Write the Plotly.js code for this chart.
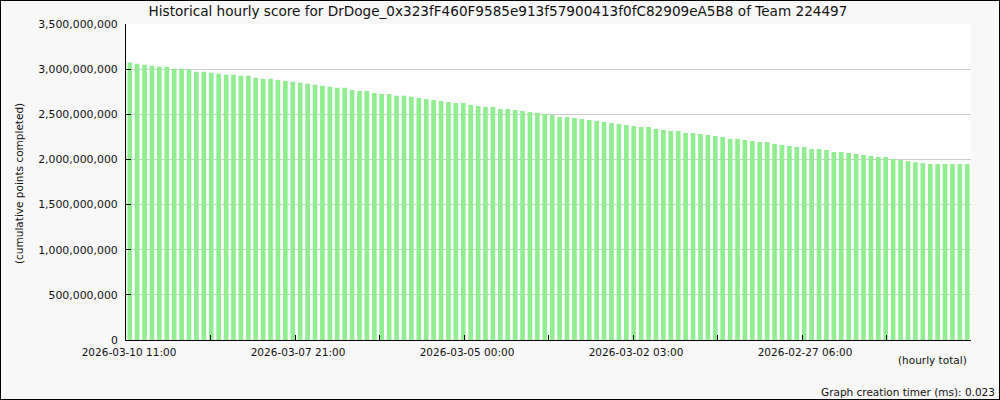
<!DOCTYPE html>
<html>
<head>
<meta charset="utf-8">
<script src="https://cdn.plot.ly/plotly-3.0.1.min.js"></script>
<style>
  html, body { margin: 0; padding: 0; background: #f8f8f8; }
  #wrap { position: relative; width: 1000px; height: 400px; }
  #chart { width: 1000px; height: 400px; }
  #frame { position: absolute; left: 0; top: 0; width: 1000px; height: 400px; box-sizing: border-box; border: 1px solid #000; pointer-events: none; }
</style>
</head>
<body>
<div id="wrap"><div id="chart"></div><div id="frame"></div></div>
<script>
// Cumulative points (millions), newest hour first (left) to oldest (right)
const scoreMillions = [
  3074, 3059, 3048, 3037, 3026, 3026, 3004, 3004, 2996, 2970,
  2970, 2959, 2948, 2937, 2937, 2926, 2926, 2904, 2893, 2893,
  2881, 2870, 2859, 2848, 2837, 2826, 2815, 2804, 2793, 2793,
  2770, 2759, 2759, 2737, 2726, 2726, 2704, 2704, 2693, 2681,
  2670, 2659, 2648, 2637, 2626, 2626, 2604, 2593, 2581, 2581,
  2559, 2559, 2548, 2537, 2526, 2515, 2504, 2493, 2470, 2470,
  2459, 2448, 2437, 2426, 2415, 2404, 2393, 2381, 2370, 2359,
  2359, 2337, 2326, 2315, 2315, 2293, 2293, 2281, 2270, 2259,
  2248, 2226, 2226, 2215, 2204, 2193, 2193, 2170, 2159, 2148,
  2137, 2137, 2115, 2115, 2104, 2081, 2081, 2070, 2059, 2048,
  2037, 2026, 2026, 2004, 1993, 1981, 1970, 1959, 1948, 1948,
  1948, 1948, 1948, 1948
];
const tickLabels = [
  "2026-03-10 11:00", "", "2026-03-07 21:00", "", "2026-03-05 00:00", "",
  "2026-03-02 03:00", "", "2026-02-27 06:00", ""
];
const titleText = "Historical hourly score for DrDoge_0x323fF460F9585e913f57900413f0fC82909eA5B8 of Team 224497";
const yTitle = "(cumulative points completed)";
const xNote = "(hourly total)";
const timerNote = "Graph creation timer (ms): 0.023";

const n = scoreMillions.length;
const xs = scoreMillions.map((_, i) => i);
const ys = scoreMillions.map(v => v * 1e6);
const lo = -0.5, hi = n - 0.5;
const step = (hi - lo) / tickLabels.length;
const tickVals = tickLabels.map((_, k) => lo + k * step);

const font = "DejaVu Sans, sans-serif";
const trace = {
  type: "bar", x: xs, y: ys, width: 0.63,
  marker: { color: "#90ee90", line: { width: 0 } },
  hoverinfo: "skip"
};
const layout = {
  width: 1000, height: 400,
  margin: { l: 126, r: 29, t: 24, b: 60, pad: 0 },
  paper_bgcolor: "#f8f8f8", plot_bgcolor: "#ffffff",
  showlegend: false,
  font: { family: font, size: 10.5, color: "#111" },
  title: { text: titleText, font: { family: font, size: 13.6, color: "#111" },
           x: 0.498, xref: "container", xanchor: "center", y: 1 - 11/400, yref: "container", yanchor: "middle" },
  xaxis: {
    range: [lo, hi], tickmode: "array", tickvals: tickVals, ticktext: tickLabels,
    ticks: "inside", ticklen: 5, tickcolor: "#000", tickwidth: 1,
    showline: true, linecolor: "#000", linewidth: 1, showgrid: false, zeroline: false,
    ticklabelshift: 3, ticklabelstandoff: 2, fixedrange: true
  },
  yaxis: {
    range: [0, 3.5e9], dtick: 5e8, tick0: 0, tickformat: ",.0f",
    tickfont: { family: font, size: 10.9, color: "#111" },
    ticks: "inside", ticklen: 5, tickcolor: "#000", tickwidth: 1, ticklabelstandoff: 5,
    showline: true, linecolor: "#000", linewidth: 1,
    showgrid: true, gridcolor: "#cccccc", gridwidth: 1, zeroline: false, fixedrange: true
  },
  annotations: [
    { text: yTitle, textangle: -90, xref: "paper", yref: "paper", x: (19 - 126) / 845, y: (340 - 184) / 316,
      xanchor: "center", yanchor: "middle", showarrow: false, font: { family: font, size: 10.5, color: "#111" } },
    { text: xNote, xref: "paper", yref: "paper", x: (969 - 126) / 845, y: (340 - 360) / 316,
      xanchor: "right", yanchor: "middle", showarrow: false, font: { family: font, size: 10.5, color: "#111" } },
    { text: timerNote, xref: "paper", yref: "paper", x: (997 - 126) / 845, y: (340 - 392) / 316,
      xanchor: "right", yanchor: "middle", showarrow: false, font: { family: font, size: 10.5, color: "#111" } }
  ]
};
Plotly.newPlot("chart", [trace], layout, { displayModeBar: false, staticPlot: true });
</script>
</body>
</html>
